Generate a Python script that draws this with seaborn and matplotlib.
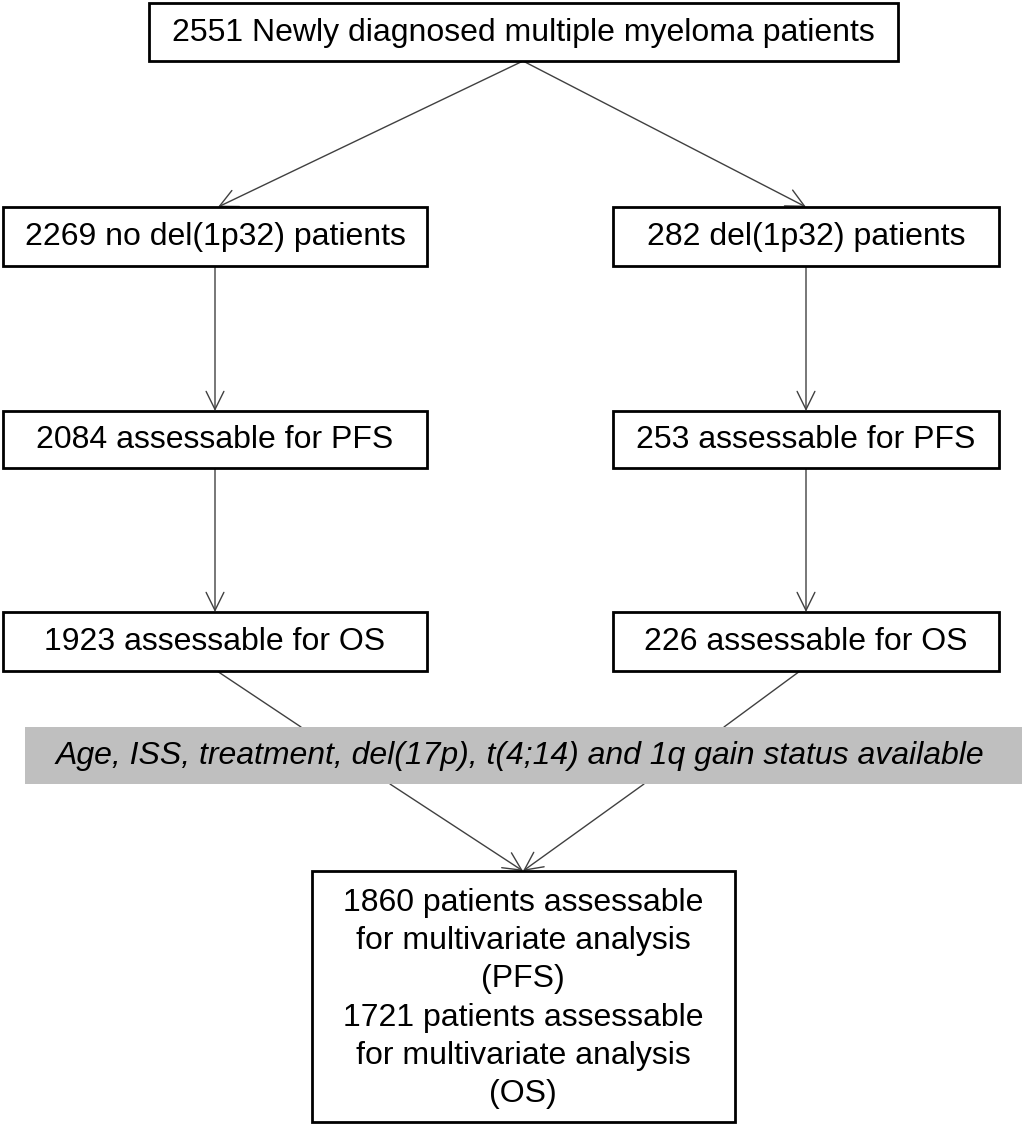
import matplotlib
matplotlib.use("Agg")
import matplotlib.pyplot as plt
from matplotlib.patches import Rectangle
import seaborn as sns

# flowchart texts
top_label = "2551 Newly diagnosed multiple myeloma patients"
left_labels = ["2269 no del(1p32) patients", "2084 assessable for PFS", "1923 assessable for OS"]
right_labels = ["282 del(1p32) patients", "253 assessable for PFS", "226 assessable for OS"]
band_label = "Age, ISS, treatment, del(17p), t(4;14) and 1q gain status available"
bottom_lines = ["1860 patients assessable", "for multivariate analysis", "(PFS)",
                "1721 patients assessable", "for multivariate analysis", "(OS)"]

sns.set_theme(style="white")
plt.rcParams['font.family'] = ['Liberation Sans', 'DejaVu Sans']

W, H = 1022, 1124
fig = plt.figure(figsize=(W / 100, H / 100), dpi=100)
ax = fig.add_axes([0, 0, 1, 1])
ax.set_xlim(0, W)
ax.set_ylim(H, 0)
ax.axis("off")

FS = 23
LINE = "#404040"


def box(x0, y0, x1, y1, text=None, **kw):
    ax.add_patch(Rectangle((x0, y0), x1 - x0, y1 - y0, fill=True, facecolor="white",
                           edgecolor="black", lw=2, zorder=2))
    if text:
        ax.text((x0 + x1) / 2, (y0 + y1) / 2 + 1, text, ha="center", va="center",
                fontsize=FS, color="black", zorder=3, **kw)


def arrow(p0, p1, head=True):
    style = "->,head_length=0.65,head_width=0.32" if head else "-"
    ax.annotate("", xy=p1, xytext=p0,
                arrowprops=dict(arrowstyle=style, color=LINE, lw=1, mutation_scale=20,
                                shrinkA=0, shrinkB=0), zorder=1)


# top box
box(149, 3, 898, 61, top_label)

# column boxes
rows = [(207, 266), (411, 468), (612, 671)]
left_x = (3, 427)
right_x = (613, 999)
for (y0, y1), lt, rt in zip(rows, left_labels, right_labels):
    box(left_x[0], y0, left_x[1], y1, lt)
    box(right_x[0], y0, right_x[1], y1, rt)

# arrows from top
arrow((523, 61), (218, 207))
arrow((523, 61), (806, 207))
for i in range(2):
    arrow((215, rows[i][1]), (215, rows[i + 1][0]))
    arrow((806, rows[i][1]), (806, rows[i + 1][0]))

# lines into the band
arrow((217, 671), (301, 727), head=False)
arrow((800, 671), (724, 727), head=False)

# grey band
ax.add_patch(Rectangle((25, 727), 997, 57, facecolor="#BFBFBF", edgecolor="none", zorder=2))
ax.text(520, 756, band_label, ha="center", va="center", fontsize=FS, style="italic",
        color="black", zorder=3)

# arrows to bottom box
arrow((390, 784), (523, 871))
arrow((644, 784), (523, 871))

# bottom box
box(312, 871, 735, 1122)
for i, line in enumerate(bottom_lines):
    ax.text(523, 903 + i * 38.2, line, ha="center", va="center", fontsize=FS,
            color="black", zorder=3)

fig.savefig("out.png", dpi=100)
